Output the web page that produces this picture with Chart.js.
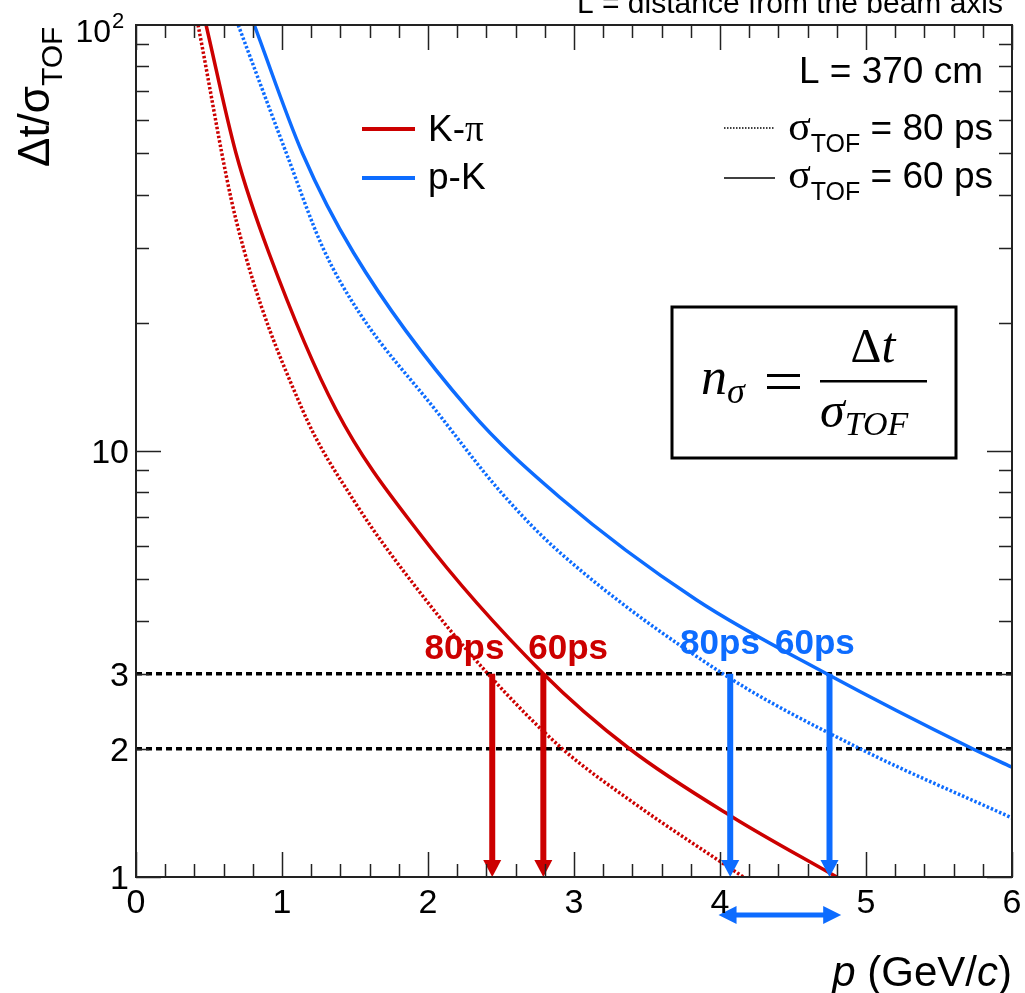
<!DOCTYPE html>
<html>
<head>
<meta charset="utf-8">
<script src="https://cdn.jsdelivr.net/npm/chart.js@4/dist/chart.umd.min.js"></script>
<style>
  html, body { margin: 0; padding: 0; background: #fff; }
  canvas { display: block; }
</style>
</head>
<body>
<canvas id="tofChart" width="1025" height="993"></canvas>
<script>
// momentum p (GeV/c) and n_sigma
const pKpi60 = [0.48, 0.685, 0.91, 1.37, 1.94, 2.79, 3.38, 4.09, 4.80];
const nKpi60 = [100, 50, 29.2, 12.5, 6.42, 3.0, 2.0, 1.38, 1.0];
const pKpi80 = [0.425, 0.685, 1.14, 1.49, 1.97, 2.41, 2.92, 3.40, 4.16];
const nKpi80 = [100, 34.9, 12.5, 7.67, 4.54, 3.0, 2.0, 1.50, 1.0];
const ppK60 = [0.81, 1.14, 1.49, 2.28, 2.90, 3.84, 4.73, 5.73, 6.0];
const npK60 = [100, 50, 29.2, 12.5, 7.8, 4.47, 3.0, 2.0, 1.81];
const ppK80 = [0.70, 1.03, 1.28, 1.53, 2.05, 2.50, 2.90, 4.02, 4.96, 6.0];
const npK80 = [100, 50, 30, 21.1, 12.5, 8.0, 5.79, 3.0, 2.0, 1.376];

// separation thresholds (dashed lines) and where they are reached
const thresholds = [3, 2];
const arrowP = [2.44, 2.79, 4.07, 4.75];
const arrowLabels = ['80ps', '60ps', '80ps', '60ps'];
const arrowLabelP = [2.25, 2.96, 4.00, 4.65];
const rangeP = [3.99, 4.83];

// axis ticks
const xMajor = [0, 1, 2, 3, 4, 5, 6];
const xTickLabels = ['0', '1', '2', '3', '4', '5', '6'];
const yLabelVals = [1, 2, 3, 10, 100];
const yTickLabels = ['1', '2', '3', '10', '10'];

const RED = '#cc0000';
const BLUE = '#0d6cff';
const SANS = '"Liberation Sans", Arial, Helvetica, sans-serif';
const SERIF = '"Liberation Serif", "Times New Roman", serif';

function pts(xs, ys) {
  return xs.map((x, i) => ({ x: x, y: ys[i] }));
}

function curve(label, xs, ys, color, dotted) {
  return {
    label: label,
    data: pts(xs, ys),
    borderColor: color,
    borderWidth: 3.5,
    borderDash: dotted ? [2.5, 2] : [],
    pointRadius: 0,
    showLine: true,
    fill: false,
    cubicInterpolationMode: 'monotone'
  };
}

// draws text pieces left to right, returns end x
function runs(ctx, x, y, parts, measureOnly) {
  let cx = x;
  parts.forEach(r => {
    ctx.font = r.font;
    if (!measureOnly) ctx.fillText(r.t, cx, y + (r.dy || 0));
    cx += ctx.measureText(r.t).width;
  });
  return cx;
}

function downArrow(ctx, x, y0, y1, color) {
  ctx.fillStyle = color;
  ctx.fillRect(x - 3, y0, 6, y1 - y0 - 14);
  ctx.beginPath();
  ctx.moveTo(x - 9, y1 - 17);
  ctx.lineTo(x + 9, y1 - 17);
  ctx.lineTo(x, y1);
  ctx.closePath();
  ctx.fill();
}

const decorPlugin = {
  id: 'decor',
  afterDraw(chart) {
    const ctx = chart.ctx;
    const xs = chart.scales.x, ys = chart.scales.y;
    const a = chart.chartArea;
    ctx.save();

    // arrows at the 3 sigma crossings
    arrowP.forEach((p, i) => {
      const col = i < 2 ? RED : BLUE;
      downArrow(ctx, xs.getPixelForValue(p), ys.getPixelForValue(3), ys.getPixelForValue(1), col);
    });
    ctx.font = 'bold 35px ' + SANS;
    ctx.textAlign = 'center';
    ctx.textBaseline = 'alphabetic';
    arrowLabels.forEach((t, i) => {
      ctx.fillStyle = i < 2 ? RED : BLUE;
      const y = ys.getPixelForValue(3) - (i < 2 ? 15 : 20);
      ctx.fillText(t, xs.getPixelForValue(arrowLabelP[i]), y);
    });

    // double arrow below the axis
    const xa = xs.getPixelForValue(rangeP[0]), xb = xs.getPixelForValue(rangeP[1]);
    const yr = a.bottom + 38;
    ctx.fillStyle = BLUE;
    ctx.fillRect(xa + 14, yr - 2.5, xb - xa - 28, 5);
    ctx.beginPath();
    ctx.moveTo(xa, yr); ctx.lineTo(xa + 18, yr - 9); ctx.lineTo(xa + 18, yr + 9); ctx.closePath();
    ctx.moveTo(xb, yr); ctx.lineTo(xb - 18, yr - 9); ctx.lineTo(xb - 18, yr + 9); ctx.closePath();
    ctx.fill();

    // frame
    ctx.strokeStyle = '#222';
    ctx.lineWidth = 2;
    ctx.strokeRect(a.left, a.top, a.right - a.left, a.bottom - a.top);

    // x ticks (bottom and top, pointing inward)
    ctx.lineWidth = 1.5;
    ctx.beginPath();
    for (let k = 0; k <= 30; k++) {
      const v = k * 0.2;
      const px = Math.round(xs.getPixelForValue(v)) + 0.5;
      const len = k % 5 === 0 ? 25 : 13;
      ctx.moveTo(px, a.bottom); ctx.lineTo(px, a.bottom - len);
      ctx.moveTo(px, a.top); ctx.lineTo(px, a.top + len);
    }
    // y ticks (log), left and right
    for (let dec = 1; dec <= 10; dec *= 10) {
      for (let m = 1; m <= 9; m++) {
        const v = dec * m;
        const py = Math.round(ys.getPixelForValue(v)) + 0.5;
        const len = m === 1 ? 25 : 13;
        ctx.moveTo(a.left, py); ctx.lineTo(a.left + len, py);
        ctx.moveTo(a.right, py); ctx.lineTo(a.right - len, py);
      }
    }
    ctx.stroke();

    // tick labels
    ctx.fillStyle = '#000';
    ctx.font = '34px ' + SANS;
    ctx.textAlign = 'center';
    xMajor.forEach((v, i) => {
      ctx.fillText(xTickLabels[i], xs.getPixelForValue(v), a.bottom + 36);
    });
    ctx.textAlign = 'right';
    yLabelVals.forEach((v, i) => {
      const py = ys.getPixelForValue(v);
      if (v === 100) {
        ctx.font = '32px ' + SANS;
        ctx.fillText(yTickLabels[i], 111, py + 17);
        ctx.font = '22px ' + SANS;
        ctx.textAlign = 'left';
        ctx.fillText('2', 112, py + 3);
        ctx.textAlign = 'right';
        ctx.font = '34px ' + SANS;
      } else {
        ctx.fillText(yTickLabels[i], 129, py + 12);
      }
    });

    // axis titles
    ctx.textAlign = 'left';
    const xt = [
      { t: 'p', font: 'italic 42px ' + SANS },
      { t: ' (GeV/', font: '42px ' + SANS },
      { t: 'c', font: 'italic 42px ' + SANS },
      { t: ')', font: '42px ' + SANS }
    ];
    const wx = runs(ctx, 0, 0, xt, true);
    runs(ctx, a.right - wx, 986, xt);

    ctx.save();
    ctx.translate(49, 167);
    ctx.rotate(-Math.PI / 2);
    runs(ctx, 0, 0, [
      { t: '\u0394t/\u03c3', font: '44px ' + SANS },
      { t: 'TOF', font: '30px ' + SANS, dy: 13 }
    ]);
    ctx.restore();

    // header text (cut by the top edge)
    ctx.font = '30px ' + SANS;
    ctx.textAlign = 'right';
    ctx.fillText('L = distance from the beam axis', 1003, 13);

    ctx.font = '37px ' + SANS;
    ctx.fillText('L = 370 cm', 983, 83);

    // sigma legend
    ctx.textAlign = 'left';
    const sig = (val) => [
      { t: '\u03c3', font: '42px ' + SERIF },
      { t: 'TOF', font: '25px ' + SANS, dy: 12 },
      { t: ' = ' + val + ' ps', font: '37px ' + SANS }
    ];
    const w80 = runs(ctx, 0, 0, sig(80), true);
    runs(ctx, 993 - w80, 140, sig(80));
    const w60 = runs(ctx, 0, 0, sig(60), true);
    runs(ctx, 993 - w60, 188, sig(60));
    ctx.strokeStyle = '#000';
    ctx.lineWidth = 1.5;
    ctx.setLineDash([1.5, 1.5]);
    ctx.beginPath(); ctx.moveTo(724, 128); ctx.lineTo(775, 128); ctx.stroke();
    ctx.setLineDash([]);
    ctx.beginPath(); ctx.moveTo(724, 178); ctx.lineTo(775, 178); ctx.stroke();

    // particle legend
    ctx.lineWidth = 4;
    ctx.strokeStyle = RED;
    ctx.beginPath(); ctx.moveTo(362, 129); ctx.lineTo(415, 129); ctx.stroke();
    ctx.strokeStyle = BLUE;
    ctx.beginPath(); ctx.moveTo(362, 178); ctx.lineTo(415, 178); ctx.stroke();
    ctx.fillStyle = '#000';
    runs(ctx, 428, 141, [{ t: 'K-', font: '37px ' + SANS }, { t: '\u03c0', font: '37px ' + SERIF }]);
    runs(ctx, 428, 189, [{ t: 'p-K', font: '37px ' + SANS }]);

    // formula box
    ctx.lineWidth = 3;
    ctx.strokeStyle = '#000';
    ctx.strokeRect(672, 307, 284, 151);
    runs(ctx, 701, 394, [{ t: 'n', font: 'italic 52px ' + SERIF }, { t: '\u03c3', font: 'italic 36px ' + SERIF, dy: 9 }]);
    ctx.fillRect(767, 374, 33, 3);
    ctx.fillRect(767, 386, 33, 3);
    ctx.fillRect(820, 380, 107, 2.5);
    const num = [{ t: '\u0394', font: '48px ' + SERIF }, { t: 't', font: 'italic 50px ' + SERIF }];
    const wn = runs(ctx, 0, 0, num, true);
    runs(ctx, 873 - wn / 2, 362, num);
    runs(ctx, 820, 427, [{ t: '\u03c3', font: 'italic 50px ' + SERIF }, { t: 'TOF', font: 'italic 34px ' + SERIF, dy: 8 }]);

    ctx.restore();
  }
};

const datasets = [
  curve('K-\u03c0 60 ps', pKpi60, nKpi60, RED, false),
  curve('K-\u03c0 80 ps', pKpi80, nKpi80, RED, true),
  curve('p-K 60 ps', ppK60, npK60, BLUE, false),
  curve('p-K 80 ps', ppK80, npK80, BLUE, true)
];
thresholds.forEach(t => {
  datasets.push({
    label: 'n = ' + t,
    data: [{ x: 0, y: t }, { x: 6, y: t }],
    borderColor: '#000',
    borderWidth: 3.5,
    borderDash: [6, 4],
    pointRadius: 0,
    showLine: true
  });
});

new Chart(document.getElementById('tofChart'), {
  type: 'scatter',
  data: { datasets: datasets },
  options: {
    responsive: false,
    animation: false,
    devicePixelRatio: 1,
    layout: { padding: { left: 136, right: 13, top: 25, bottom: 116 } },
    plugins: { legend: { display: false }, tooltip: { enabled: false } },
    scales: {
      x: { type: 'linear', min: 0, max: 6, display: false },
      y: { type: 'logarithmic', min: 1, max: 100, display: false }
    }
  },
  plugins: [decorPlugin]
});
</script>
</body>
</html>
